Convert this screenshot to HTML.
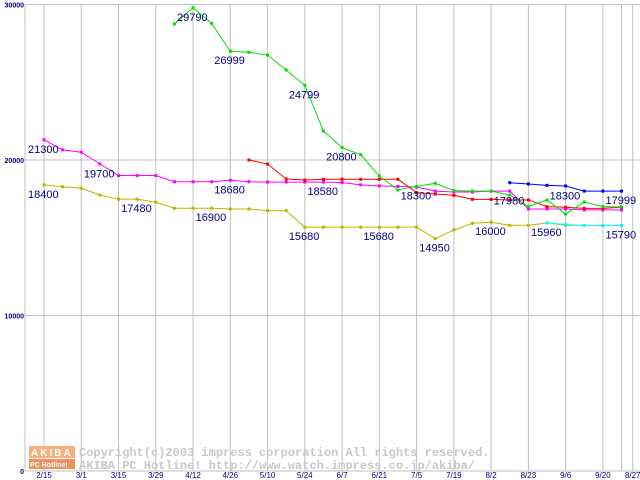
<!DOCTYPE html>
<html><head><meta charset="utf-8"><style>
html,body{margin:0;padding:0;background:#fff;}
svg{display:block;font-family:"Liberation Sans",sans-serif;}
</style></head><body>
<svg id="chart" width="640" height="480" viewBox="0 0 640 480" xmlns="http://www.w3.org/2000/svg">
<g id="grid"></g>
<g id="watermark">
<rect x="29" y="446" width="46" height="12" fill="#f8b080"/>
<text x="31" y="456" font-size="10" font-weight="bold" fill="#fff" letter-spacing="2">AKIBA</text>
<rect x="29" y="459" width="46" height="10" fill="#f09060"/>
<text x="30" y="467" font-size="7" font-weight="bold" fill="#fff">PC Hotline!</text>
<text x="79" y="456" font-size="12" font-family="Liberation Mono, monospace" font-weight="bold" fill="#c8c8c8">Copyright(c)2003 impress corporation All rights reserved.</text>
<text x="79" y="469" font-size="12" font-family="Liberation Mono, monospace" font-weight="bold" fill="#c8c8c8">AKIBA PC Hotline!  http://www.watch.impress.co.jp/akiba/</text>
</g>
<g id="axes"></g>
<g id="series"></g>
<g id="labels"></g>
</svg>
<script>
const xTickLabels=["2/15","3/1","3/15","3/29","4/12","4/26","5/10","5/24","6/7","6/21","7/5","7/19","8/2","8/23","9/6","9/20","8/27"];
const xTickIdx=[0,2,4,6,8,10,12,14,16,18,20,22,24,26,28,30,31.6];
const yTicks=[0,10000,20000,30000];
const magenta=[21300,20650,20500,19750,19000,19000,19000,18600,18600,18600,18700,18600,18580,18580,18580,18580,18550,18400,18330,18300,18260,18000,17940,17940,18000,18000,16850,16850,16850,16790,16790,16790];
const green=[null,null,null,null,null,null,null,28750,29790,28790,26999,26930,26750,25790,24799,21860,20800,20340,18970,18070,18300,18500,18030,18000,18000,17750,17000,17430,16530,17300,17000,16980];
const red=[null,null,null,null,null,null,null,null,null,null,null,20000,19740,18780,18710,18760,18760,18760,18760,18760,17900,17810,17730,17470,17470,17430,17430,17000,16960,16890,16890,16960];
const blue=[null,null,null,null,null,null,null,null,null,null,null,null,null,null,null,null,null,null,null,null,null,null,null,null,null,18540,18460,18370,18330,18000,18000,17999];
const yellow=[18400,18280,18180,17750,17480,17480,17280,16900,16900,16900,16850,16850,16740,16740,15680,15680,15680,15680,15680,15680,15680,14950,15500,15930,16000,15800,15800,15960,15800,15790,15790,15790];
const cyan=[null,null,null,null,null,null,null,null,null,null,null,null,null,null,null,null,null,null,null,null,null,null,null,null,null,null,null,15960,15850,15790,15790,15790];
const labelTexts=["21300","19700","18400","17480","16900","18680","29790","26999","24799","18580","15680","20800","15680","18300","14950","16000","17980","15960","18300","17999","15790"];
const labelIdx=[0,3,0,5,9,10,8,10,14,15,14,16,18,20,21,24,25,27,28,31,31];
const labelVals=[21300,19700,18400,17480,16900,18680,29790,26999,24799,18580,15680,20800,15680,18300,14950,16000,17980,15960,18300,17999,15790];

const NS="http://www.w3.org/2000/svg";
const xs=i=>44+i*18.63;
const ys=v=>471-v*0.01555;
function mk(tag,attrs,parent){const e=document.createElementNS(NS,tag);for(const k in attrs)e.setAttribute(k,attrs[k]);parent.appendChild(e);return e;}
const grid=document.getElementById('grid'),axes=document.getElementById('axes'),ser=document.getElementById('series'),lab=document.getElementById('labels');
const gridXIdx=[0,2,4,6,8,10,12,14,16,18,20,22,24,26,28,30,31,31.6];
gridXIdx.forEach(i=>{const l=mk('line',{x1:xs(i),x2:xs(i),y1:5,y2:471,stroke:'#c0c0c0','stroke-width':1},grid);

});
yTicks.forEach(v=>{const l=mk('line',{x1:25,x2:640,y1:ys(v),y2:ys(v),stroke:'#c0c0c0','stroke-width':1},grid);


const t=mk('text',{x:24,y:ys(v)+3,'font-size':7,'font-weight':'bold',fill:'#000080','text-anchor':'end'},axes);t.textContent=String(v);

});
const ax=mk('line',{x1:25,x2:25,y1:5,y2:471,stroke:'#c0c0c0','stroke-width':1},axes);


xTickLabels.forEach((s,k)=>{const t=mk('text',{x:xs(xTickIdx[k]),y:478,'font-size':8,fill:'#000080','text-anchor':'middle'},axes);t.textContent=s;

});
function drawSeries(arr,color,name){
 let pts=[];arr.forEach((v,i)=>{if(v!=null)pts.push([xs(i),ys(v)]);});
 const p=mk('polyline',{points:pts.map(p=>p.join(',')).join(' '),fill:'none',stroke:color,'stroke-width':1},ser);
 
 
 pts.forEach(q=>{const r=mk('rect',{x:q[0]-1.5,y:q[1]-1.5,width:3,height:3,fill:color},ser);
 
 });
}
drawSeries(yellow,'#c0b400','yellow-series');
drawSeries(magenta,'#ff00ff','magenta-series');
drawSeries(red,'#ff0000','red-series');
drawSeries(green,'#00e000','green-series');
drawSeries(blue,'#0000ff','blue-series');
drawSeries(cyan,'#00ffff','cyan-series');
labelTexts.forEach((s,k)=>{
 const t=mk('text',{x:xs(labelIdx[k])-16,y:ys(labelVals[k])+13,'font-size':11,fill:'#000080'},lab);
 t.textContent=s;
 
 
});
</script>
</body></html>
